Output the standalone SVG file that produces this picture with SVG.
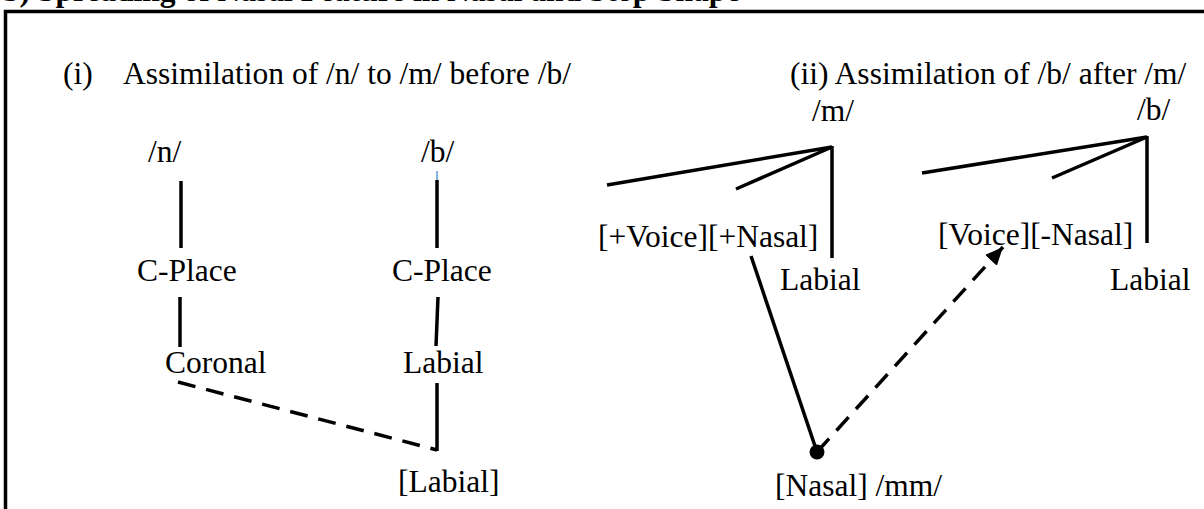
<svg xmlns="http://www.w3.org/2000/svg" width="1204" height="509" viewBox="0 0 1204 509">
  <style>
    .t { font-family: "Liberation Serif", "Times New Roman", serif; font-size: 31.5px; fill: #000; }
    .h { font-family: "Liberation Serif", "Times New Roman", serif; font-size: 31.5px; font-weight: bold; fill: #000; }
    .ln { stroke: #000; stroke-width: 3.5; fill: none; stroke-linecap: butt; }
    .dash { stroke: #000; stroke-width: 3.5; fill: none; stroke-dasharray: 18 11; }
  </style>
  <defs>
    <marker id="arrow" markerUnits="userSpaceOnUse" markerWidth="20" markerHeight="16" refX="18" refY="8" orient="auto">
      <path d="M0,0 L18,8 L0,16 Z" fill="#000"/>
    </marker>
  </defs>

  <!-- heading line, running off the top edge -->
  <text class="h" x="2" y="1">b) Spreading of Nasal Feature in Nasal and Stop Shape</text>

  <!-- frame -->
  <path d="M5.5,509 V11.5 H1204" fill="none" stroke="#000" stroke-width="3.5"/>

  <!-- section titles -->
  <g id="title-i">
    <text class="t" x="63" y="84">(i)</text>
    <text class="t" x="123" y="84">Assimilation of /n/ to /m/ before /b/</text>
  </g>
  <g id="title-ii">
    <text class="t" x="790" y="84">(ii) Assimilation of /b/ after /m/</text>
  </g>

  <!-- tree (i): /n/ -->
  <g id="n-root"><text class="t" x="148" y="162">/n/</text></g>
  <g id="n-cplace"><text class="t" x="137" y="281">C-Place</text></g>
  <g id="n-coronal"><text class="t" x="165" y="373">Coronal</text></g>

  <!-- tree (i): /b/ -->
  <g id="b-root"><text class="t" x="421" y="162">/b/</text></g>
  <g id="b-cplace"><text class="t" x="392" y="281">C-Place</text></g>
  <g id="b-labial"><text class="t" x="403" y="373">Labial</text></g>
  <g id="labial-feature"><text class="t" x="398" y="492">[Labial]</text></g>

  <!-- tree (ii): /m/ -->
  <g id="m-root"><text class="t" x="812" y="121">/m/</text></g>
  <g id="m-features"><text class="t" x="598" y="247">[+Voice][+Nasal]</text></g>
  <g id="m-labial"><text class="t" x="780" y="290">Labial</text></g>
  <g id="nasal-node">
    <circle cx="817" cy="452" r="7.5" fill="#000"/>
    <text class="t" x="775" y="496">[Nasal] /mm/</text>
  </g>

  <!-- tree (ii): /b/ -->
  <g id="b2-root"><text class="t" x="1137" y="120">/b/</text></g>
  <g id="b2-features"><text class="t" x="938" y="245">[Voice][-Nasal]</text></g>
  <g id="b2-labial"><text class="t" x="1110" y="290">Labial</text></g>

  <!-- connectors -->
  <g id="connectors">
    <!-- /n/ branch -->
    <line class="ln" x1="181" y1="181" x2="181" y2="248"/>
    <line class="ln" x1="180" y1="297" x2="180" y2="347"/>
    <!-- /b/ branch -->
    <line x1="437" y1="171" x2="437" y2="180" stroke="#5b9bd5" stroke-width="1.5"/>
    <line class="ln" x1="437" y1="180" x2="437" y2="248"/>
    <line class="ln" x1="438" y1="297" x2="436" y2="346"/>
    <line class="ln" x1="437" y1="383" x2="437" y2="451"/>
    <line class="dash" x1="178" y1="382" x2="437" y2="450"/>
    <!-- /m/ tree -->
    <line class="ln" x1="832" y1="147" x2="607" y2="185"/>
    <line class="ln" x1="832" y1="147" x2="736" y2="189"/>
    <line class="ln" x1="832" y1="146" x2="832" y2="258"/>
    <line class="ln" x1="751" y1="256" x2="817" y2="452"/>
    <line class="dash" x1="817" y1="452" x2="1003" y2="247" stroke-dasharray="17 10" marker-end="url(#arrow)"/>
    <!-- /b/ tree -->
    <line class="ln" x1="1147" y1="137" x2="922" y2="173"/>
    <line class="ln" x1="1147" y1="137" x2="1052" y2="178"/>
    <line class="ln" x1="1147" y1="136" x2="1147" y2="243"/>
  </g>
</svg>
